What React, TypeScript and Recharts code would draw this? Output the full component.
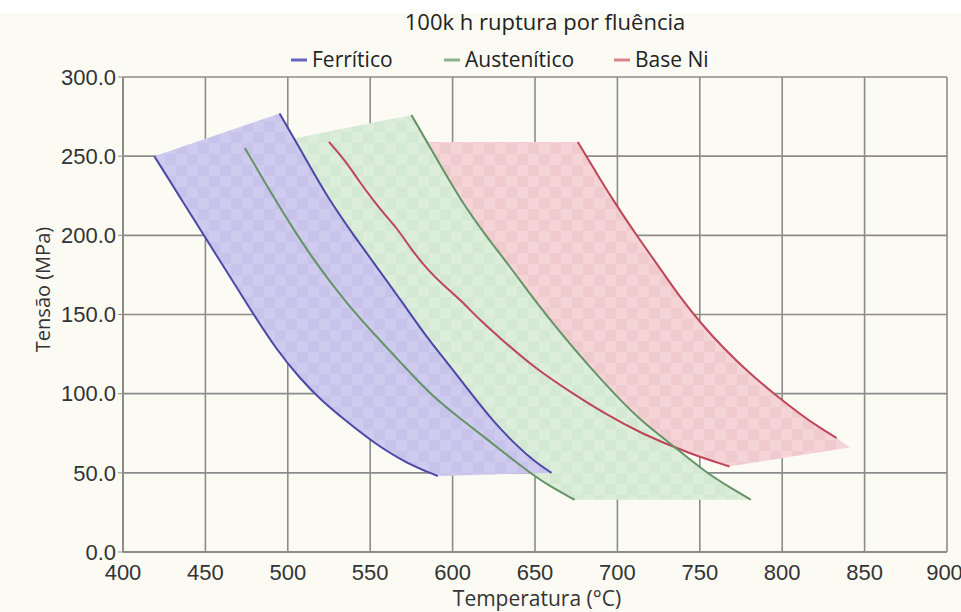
import React from "react";
import {
  ComposedChart,
  Line,
  Scatter,
  XAxis,
  YAxis,
  CartesianGrid,
  Label,
} from "recharts";

type Pt = { x: number; y: number };

const xTicks = [400, 450, 500, 550, 600, 650, 700, 750, 800, 850, 900];
const yTicks = [0, 50, 100, 150, 200, 250, 300];

// Ferrítico: lower and upper limit curves (temperature °C, stress MPa)
const ferriticoLow: Pt[] = [
  { x: 419, y: 250 }, { x: 440, y: 215 }, { x: 460, y: 182 }, { x: 478, y: 152 },
  { x: 493, y: 128 }, { x: 507, y: 110 }, { x: 520, y: 96 }, { x: 535, y: 83 },
  { x: 552, y: 69 }, { x: 572, y: 56 }, { x: 591, y: 48 },
];
const ferriticoHigh: Pt[] = [
  { x: 495, y: 277 }, { x: 510, y: 250 }, { x: 524, y: 224 }, { x: 540, y: 200 },
  { x: 556, y: 177 }, { x: 570, y: 157 }, { x: 584, y: 136 }, { x: 598, y: 118 },
  { x: 612, y: 99 }, { x: 625, y: 82 }, { x: 640, y: 66 }, { x: 650, y: 57 },
  { x: 660, y: 50 },
];

// Austenítico
const austeniticoLow: Pt[] = [
  { x: 474, y: 255 }, { x: 488, y: 230 }, { x: 502, y: 206 }, { x: 518, y: 181 },
  { x: 535, y: 158 }, { x: 552, y: 138 }, { x: 570, y: 118 }, { x: 588, y: 98 },
  { x: 605, y: 84 }, { x: 620, y: 72 }, { x: 643, y: 53 }, { x: 658, y: 42 },
  { x: 674, y: 33 },
];
const austeniticoHigh: Pt[] = [
  { x: 575, y: 276 }, { x: 590, y: 249 }, { x: 605, y: 222 }, { x: 620, y: 200 },
  { x: 635, y: 180 }, { x: 649, y: 160 }, { x: 665, y: 139 }, { x: 683, y: 117 },
  { x: 698, y: 100 }, { x: 714, y: 83 }, { x: 734, y: 67 }, { x: 754, y: 50 },
  { x: 768, y: 41 }, { x: 781, y: 33 },
];

// Base Ni
const baseNiLow: Pt[] = [
  { x: 525, y: 259 }, { x: 535, y: 247 }, { x: 544, y: 233 }, { x: 552, y: 222 },
  { x: 558, y: 214 }, { x: 566, y: 205 }, { x: 575, y: 191 }, { x: 585, y: 178 },
  { x: 595, y: 168 }, { x: 605, y: 159 }, { x: 617, y: 146 }, { x: 630, y: 134 },
  { x: 650, y: 116 }, { x: 673, y: 100 }, { x: 693, y: 87 }, { x: 714, y: 75 },
  { x: 744, y: 62 }, { x: 768, y: 54 },
];
const baseNiHigh: Pt[] = [
  { x: 676, y: 259 }, { x: 688, y: 238 }, { x: 700, y: 218 }, { x: 713, y: 198 },
  { x: 726, y: 179 }, { x: 738, y: 161 }, { x: 751, y: 144 }, { x: 765, y: 128 },
  { x: 780, y: 113 }, { x: 795, y: 100 }, { x: 811, y: 87 }, { x: 822, y: 79 },
  { x: 833, y: 72 },
];
const baseNiTip: Pt[] = [{ x: 841, y: 66 }];

// closed outline: lower curve forward, then upper curve backward
const band = (low: Pt[], high: Pt[], extra: Pt[] = []) => [
  ...low,
  ...extra,
  ...[...high].reverse(),
];

const series = [
  {
    name: "Ferrítico",
    low: ferriticoLow,
    high: ferriticoHigh,
    extra: [] as Pt[],
    line: "#4b48a6",
    legend: "#6664c4",
    base: "#c7c3eb",
    light: "#cfcbee",
  },
  {
    name: "Austenítico",
    low: austeniticoLow,
    high: austeniticoHigh,
    extra: [] as Pt[],
    line: "#649466",
    legend: "#8cb08c",
    base: "#d4e9d3",
    light: "#dcedda",
  },
  {
    name: "Base Ni",
    low: baseNiLow,
    high: baseNiHigh,
    extra: baseNiTip,
    line: "#bf4558",
    legend: "#d9838f",
    base: "#f0cbce",
    light: "#f4d4d6",
  },
];

const noDot = () => <g />;

// renders the scatter "line" as a filled, faintly checkered polygon
function bandShape(id: string, base: string, light: string) {
  return (props: any) => {
    const pts: { x: number; y: number }[] = props.points || [];
    const d =
      pts.map((p, i) => `${i ? "L" : "M"}${p.x},${p.y}`).join(" ") + " Z";
    return (
      <g>
        <defs>
          <pattern id={id} width={22} height={22} patternUnits="userSpaceOnUse">
            <rect width={22} height={22} fill={base} />
            <rect width={11} height={11} fill={light} />
            <rect x={11} y={11} width={11} height={11} fill={light} />
          </pattern>
        </defs>
        <path d={d} fill={`url(#${id})`} stroke="none" />
      </g>
    );
  };
}

const tickFont = {
  fill: "#333333",
  fontSize: 22,
  fontFamily: "'Liberation Sans', Arial, sans-serif",
};
const titleFont = "'Open Sans', 'Noto Sans', sans-serif";
const axisGrey = "#8c8c8c";

export default function App() {
  // bands drawn back to front: Base Ni, Austenítico, Ferrítico
  const bands = [...series].reverse();

  return (
    <div
      style={{
        position: "absolute",
        left: 0,
        top: 0,
        width: 961,
        height: 612,
        background: "#fbfbf4",
        overflow: "hidden",
      }}
    >
      <div
        style={{
          position: "absolute",
          left: 0,
          top: 0,
          width: 961,
          height: 13,
          background: "#ffffff",
        }}
      />

      <ComposedChart
        width={961}
        height={612}
        margin={{ top: 77, right: 14, bottom: 0, left: 0 }}
        style={{ position: "absolute", left: 0, top: 0 }}
      >
        <CartesianGrid stroke={axisGrey} strokeWidth={1.6} />

        <XAxis
          type="number"
          dataKey="x"
          domain={[400, 900]}
          ticks={xTicks}
          height={60}
          tick={tickFont}
          tickLine={false}
          tickSize={6}
          tickMargin={6}
          axisLine={{ stroke: axisGrey, strokeWidth: 2 }}
          allowDataOverflow
        >
          <Label
            content={(p: any) => {
              const vb = p.viewBox || {};
              return (
                <text
                  x={vb.x + vb.width / 2 + 2}
                  y={vb.y + 54}
                  textAnchor="middle"
                  fontSize={21}
                  fontFamily={titleFont}
                  fill="#333"
                >
                  Temperatura (°C)
                </text>
              );
            }}
          />
        </XAxis>

        <YAxis
          type="number"
          dataKey="y"
          domain={[0, 300]}
          ticks={yTicks}
          width={123}
          tick={tickFont}
          tickFormatter={(v: number) => v.toFixed(1)}
          tickSize={5}
          tickMargin={2}
          tickLine={{ stroke: axisGrey }}
          axisLine={{ stroke: axisGrey, strokeWidth: 2 }}
          allowDataOverflow
        >
          <Label
            content={(p: any) => {
              const vb = p.viewBox || {};
              const cx = vb.x + 42;
              const cy = vb.y + vb.height / 2 - 25;
              return (
                <text
                  x={cx}
                  y={cy}
                  textAnchor="middle"
                  dominantBaseline="central"
                  transform={`rotate(-90 ${cx} ${cy})`}
                  fontSize={20}
                  fontFamily={titleFont}
                  fill="#333"
                >
                  Tensão (MPa)
                </text>
              );
            }}
          />
        </YAxis>

        {bands.map((s, i) => (
          <Scatter
            key={`band-${s.name}`}
            data={band(s.low, s.high, s.extra)}
            line={bandShape(`pat-${i}`, s.base, s.light)}
            lineType="joint"
            shape={noDot}
            legendType="none"
            isAnimationActive={false}
            zIndex={100}
          />
        ))}

        {series.map((s) => (
          <Line
            key={`low-${s.name}`}
            data={s.low}
            dataKey="y"
            type="basis"
            stroke={s.line}
            strokeWidth={2}
            dot={false}
            activeDot={false}
            isAnimationActive={false}
          />
        ))}
        {series.map((s) => (
          <Line
            key={`high-${s.name}`}
            data={s.high}
            dataKey="y"
            type="basis"
            stroke={s.line}
            strokeWidth={2}
            dot={false}
            activeDot={false}
            isAnimationActive={false}
          />
        ))}
      </ComposedChart>

      {/* title and legend */}
      <svg
        width={961}
        height={80}
        style={{ position: "absolute", left: 0, top: 0, pointerEvents: "none" }}
      >
        <text
          x={545}
          y={30}
          textAnchor="middle"
          fontSize={22}
          fontFamily={titleFont}
          fill="#222"
        >
          100k h ruptura por fluência
        </text>
        {series.map((s, i) => {
          const x0 = [291, 444, 614][i];
          return (
            <g key={`leg-${s.name}`}>
              <line
                x1={x0}
                x2={x0 + 16}
                y1={60}
                y2={60}
                stroke={s.legend}
                strokeWidth={3}
              />
              <text
                x={x0 + 21}
                y={67}
                fontSize={21}
                fontFamily={titleFont}
                fill="#222"
              >
                {s.name}
              </text>
            </g>
          );
        })}
      </svg>
    </div>
  );
}
